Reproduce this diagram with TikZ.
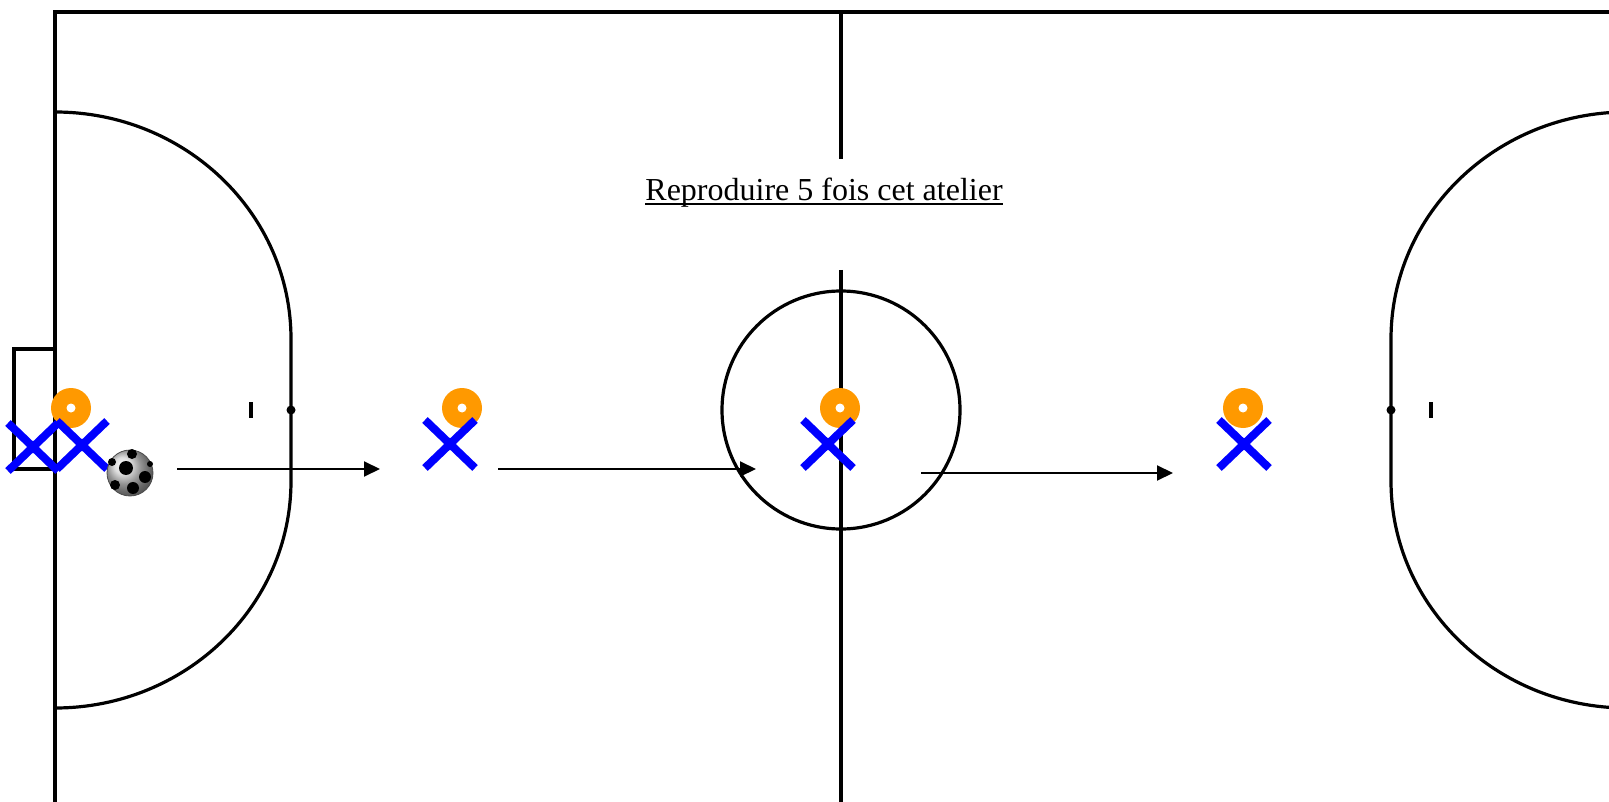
\documentclass[tikz,border=0pt]{standalone}
\usepackage{fontspec}
\setmainfont{Liberation Serif}
\usetikzlibrary{arrows.meta,calc}
\definecolor{coneorange}{RGB}{255,153,0}
\definecolor{playerblue}{RGB}{0,0,255}
\tikzset{
  court/.style={line width=3.6pt, black},
  courtarc/.style={line width=3.2pt, black},
  passarrow/.style={line width=2pt, -{Triangle[length=16pt,width=15pt]}},
  playerx/.style={line width=8pt, playerblue},
}
\newcommand{\drawcone}[1]{%
  \fill[coneorange] (#1) circle (20);
  \fill[white] (#1) circle (4.5);
}
\newcommand{\drawplayer}[1]{%
  \draw[playerx] ($(#1)+(-25,-24)$) -- ($(#1)+(25,24)$);
  \draw[playerx] ($(#1)+(-25,24)$) -- ($(#1)+(25,-24)$);
}
\begin{document}
\begin{tikzpicture}[x=1pt,y=-1pt]
\useasboundingbox (0,0) rectangle (1609,802);
\clip (0,0) rectangle (1609,802);
\fill[white] (0,0) rectangle (1609,802);
% court outline
\draw[court] (55,802) -- (55,12) -- (1640,12);
% centre line with gap for the text
\draw[court] (841,12) -- (841,159);
\draw[court] (841,270) -- (841,802);
% centre circle
\draw[courtarc] (841,410) circle (119);
% left penalty area
\draw[courtarc] (55,112) arc[start angle=-90, end angle=0, x radius=236, y radius=227]
  -- (291,481) arc[start angle=0, end angle=90, x radius=236, y radius=227];
% right penalty area
\draw[courtarc] (1627,112) arc[start angle=-90, end angle=-180, x radius=236, y radius=227]
  -- (1391,481) arc[start angle=180, end angle=90, x radius=236, y radius=227];
% penalty spots and marks
\fill (291,410) circle (4.5);
\fill (1391,410) circle (4.5);
\draw[line width=3.5pt] (251,402) -- (251,418);
\draw[line width=3.5pt] (1431,402) -- (1431,418);
% goal
\draw[court] (55,349) -- (14,349) -- (14,469) -- (55,469);
% title
\node[anchor=base, inner sep=0pt, font=\fontsize{32}{38}\selectfont] (title) at (824,201) {Reproduire 5 fois cet atelier};
\draw[line width=1.8pt] ([yshift=-2.8pt]title.base west) -- ([yshift=-2.8pt]title.base east);
% pass arrows
\coordinate (a1s) at (177,469); \coordinate (a1e) at (380,469);
\coordinate (a2s) at (498,469); \coordinate (a2e) at (756,469);
\coordinate (a3s) at (921,473); \coordinate (a3e) at (1173,473);
\draw[passarrow] (a1s) -- (a1e);
\draw[passarrow] (a2s) -- (a2e);
\draw[passarrow] (a3s) -- (a3e);
% cones
\coordinate (c1) at (71,408);
\coordinate (c2) at (462,408);
\coordinate (c3) at (840,408);
\coordinate (c4) at (1243,408);
\drawcone{c1}\drawcone{c2}\drawcone{c3}\drawcone{c4}
% players
\coordinate (p1) at (33,447);
\coordinate (p2) at (82,445);
\coordinate (p3) at (450,444);
\coordinate (p4) at (828,444);
\coordinate (p5) at (1244,444);
\drawplayer{p1}\drawplayer{p2}\drawplayer{p3}\drawplayer{p4}\drawplayer{p5}
% ball
\coordinate (ball) at (130,473);
\shade[ball color=gray!35] (ball) circle (23);
\draw[gray!60!black, line width=0.8pt] (ball) circle (23);
\fill[black] ($(ball)+(-4,-5)$) circle (7);
\fill[black] ($(ball)+(2,-19)$) circle (5);
\fill[black] ($(ball)+(15,4)$) circle (6);
\fill[black] ($(ball)+(3,15)$) circle (6);
\fill[black] ($(ball)+(-15,12)$) circle (5);
\fill[black] ($(ball)+(-18,-11)$) circle (4);
\fill[black] ($(ball)+(20,-9)$) circle (3);
\end{tikzpicture}
\end{document}
